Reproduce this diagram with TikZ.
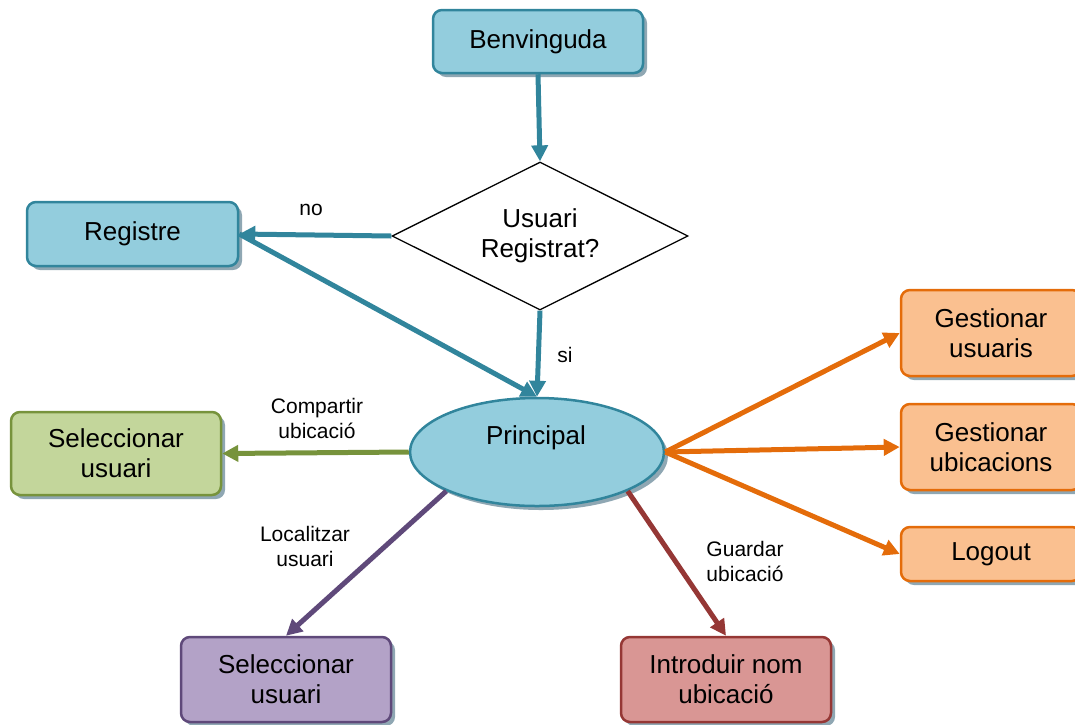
\documentclass[tikz,border=0pt]{standalone}
\usepackage{fontspec}
\setmainfont{Liberation Sans}
\usetikzlibrary{shapes.geometric,arrows.meta,shadows}
\definecolor{tealfill}{HTML}{93CDDD}
\definecolor{tealline}{HTML}{31859C}
\definecolor{greenfill}{HTML}{C3D69B}
\definecolor{greenline}{HTML}{77933C}
\definecolor{purplefill}{HTML}{B3A2C7}
\definecolor{purpleline}{HTML}{5F497A}
\definecolor{redfill}{HTML}{D99694}
\definecolor{redline}{HTML}{953735}
\definecolor{orangefill}{HTML}{FAC090}
\definecolor{orangeline}{HTML}{E46C0A}
\definecolor{shadowc}{HTML}{8FA7B3}
\begin{document}
\begin{tikzpicture}[x=1pt,y=-1pt,
  box/.style={draw, rounded corners=9pt, line width=2.5pt, align=center,
    font=\fontsize{26}{30}\selectfont, inner sep=0pt,
    drop shadow={shadow xshift=4pt, shadow yshift=-4pt, fill=shadowc, opacity=1}},
  tealbox/.style={box, draw=tealline, fill=tealfill},
  greenbox/.style={box, draw=greenline, fill=greenfill},
  purplebox/.style={box, draw=purpleline, fill=purplefill},
  redbox/.style={box, draw=redline, fill=redfill},
  orangebox/.style={box, draw=orangeline, fill=orangefill},
  lbl/.style={align=center, font=\fontsize{21}{25}\selectfont, inner sep=0pt},
  arr/.style={line width=5pt, -{Triangle[length=16pt,width=16pt]}},
]
\useasboundingbox (0,0) rectangle (1075,724);
\clip (0,0) rectangle (1075,724);

% nodes
\node[tealbox, minimum width=210pt, minimum height=63pt] (B) at (538,41.5) {Benvinguda};
\node[diamond, aspect=2, draw=black, line width=1.3pt, fill=white, minimum width=296pt, minimum height=148pt,
      inner sep=0pt, align=center, font=\fontsize{26}{30}\selectfont] (D) at (540,236) {Usuari\\Registrat?};
\node[tealbox, minimum width=211pt, minimum height=64pt] (R) at (132.5,234) {Registre};
\node[ellipse, draw=tealline, fill=tealfill, line width=2.5pt, minimum width=254pt, minimum height=108pt,
      inner sep=0pt, drop shadow={shadow xshift=4pt, shadow yshift=-4pt, fill=shadowc, opacity=1}] (P) at (537,452) {};
\node[font=\fontsize{26}{30}\selectfont, inner sep=0pt] (PT) at (536,438) {Principal};
\node[greenbox, minimum width=210pt, minimum height=83pt] (G) at (116,453.5) {Seleccionar\\usuari};
\node[purplebox, minimum width=210pt, minimum height=85pt] (U) at (286,679.5) {Seleccionar\\usuari};
\node[redbox, minimum width=210pt, minimum height=85pt] (I) at (726,679.5) {Introduir nom\\ubicació};
\node[orangebox, minimum width=180pt, minimum height=86pt] (GU) at (991,333) {Gestionar\\usuaris};
\node[orangebox, minimum width=180pt, minimum height=86pt] (GB) at (991,447) {Gestionar\\ubicacions};
\node[orangebox, minimum width=180pt, minimum height=54pt] (L) at (991,554) {Logout};

% labels
\node[lbl] (lno) at (311,210) {no};
\node[lbl] (lsi) at (565,355) {si};
\node[lbl] (lcomp) at (317,418) {Compartir\\ubicació};
\node[lbl] (lloc) at (305,546) {Localitzar\\usuari};
\node[lbl] (lguard) at (745,561) {Guardar\\ubicació};

% connectors
\draw[arr, tealline] (B.south) -- (D.north);
\draw[arr, tealline] (D.west) -- (R.east);
\draw[arr, tealline] (R.east) -- (P.north);
\draw[arr, tealline] (D.south) -- (P.north);
\draw[arr, greenline] (P.west) -- (G.east);
\draw[arr, purpleline] (P.south west) -- (U.north);
\draw[arr, redline] (P.south east) -- (I.north);
\draw[arr, orangeline] (P.east) -- (GU.west);
\draw[arr, orangeline] (P.east) -- (GB.west);
\draw[arr, orangeline] (P.east) -- (L.west);
\end{tikzpicture}
\end{document}
